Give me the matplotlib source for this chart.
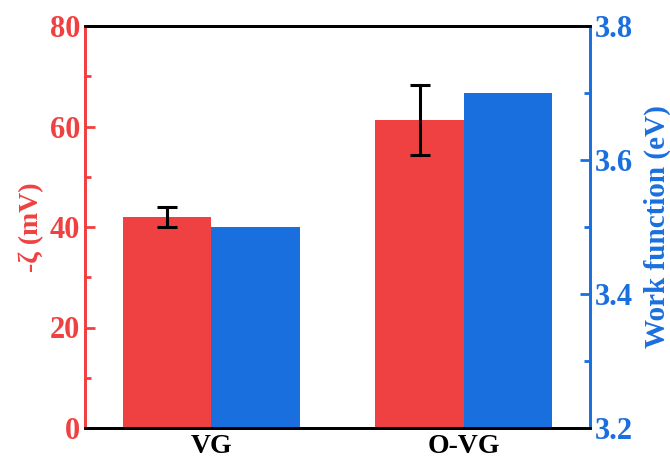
import matplotlib
matplotlib.use("Agg")
import matplotlib.pyplot as plt
import numpy as np
from matplotlib.ticker import MultipleLocator

categories = ["VG", "O-VG"]
zeta = [42.0, 61.3]
zeta_err = [2.0, 6.9]
work_function = [3.5, 3.7]

red = "#EF4141"
blue = "#1A6FDF"

plt.rcParams['font.family'] = ['Liberation Serif', 'DejaVu Serif']
plt.rcParams['font.weight'] = 'bold'

fig = plt.figure(figsize=(6.7, 4.62), dpi=100)
ax = fig.add_axes([85/670, 1-428/462, 505/670, 402/462])
ax2 = ax.twinx()

x = np.arange(len(categories))
w = 0.35
ax.bar(x - w/2, zeta, width=w, color=red, zorder=2)
ax.errorbar(x - w/2, zeta, yerr=zeta_err, fmt='none', ecolor='black',
            elinewidth=2.2, capsize=7, capthick=2.2, zorder=3)
ax2.bar(x + w/2, work_function, width=w, color=blue, zorder=2)

ax.set_xlim(-0.5, 1.5)
ax.set_ylim(0, 80)
ax2.set_ylim(3.2, 3.8)

ax.yaxis.set_major_locator(MultipleLocator(20))
ax.yaxis.set_minor_locator(MultipleLocator(10))
ax2.yaxis.set_major_locator(MultipleLocator(0.2))
ax2.yaxis.set_minor_locator(MultipleLocator(0.1))

ax.set_xticks(x)
ax.set_xticklabels(categories, fontsize=20, fontweight='bold')
ax.tick_params(axis='x', length=0, pad=4)

ax.tick_params(axis='y', which='major', direction='in', length=7, width=2,
               colors=red, labelsize=22)
ax.tick_params(axis='y', which='minor', direction='in', length=4, width=2, colors=red)
ax2.tick_params(axis='y', which='major', direction='in', length=7, width=2,
                colors=blue, labelsize=22)
ax2.tick_params(axis='y', which='minor', direction='in', length=4, width=2, colors=blue)
for lab in ax.get_yticklabels() + ax2.get_yticklabels():
    lab.set_fontweight('bold')

for a in (ax, ax2):
    for s in a.spines.values():
        s.set_linewidth(2)
ax.spines['left'].set_color(red)
ax2.spines['left'].set_color(red)
ax.spines['right'].set_color(blue)
ax2.spines['right'].set_color(blue)
ax.spines['top'].set_color('black')
ax.spines['bottom'].set_color('black')

ax.set_ylabel("-ζ (mV)", color=red, fontsize=20, fontweight='bold', labelpad=4)
ax2.set_ylabel("Work function (eV)", color=blue, fontsize=21, fontweight='bold', labelpad=8)

fig.savefig("out.png", dpi=100)
